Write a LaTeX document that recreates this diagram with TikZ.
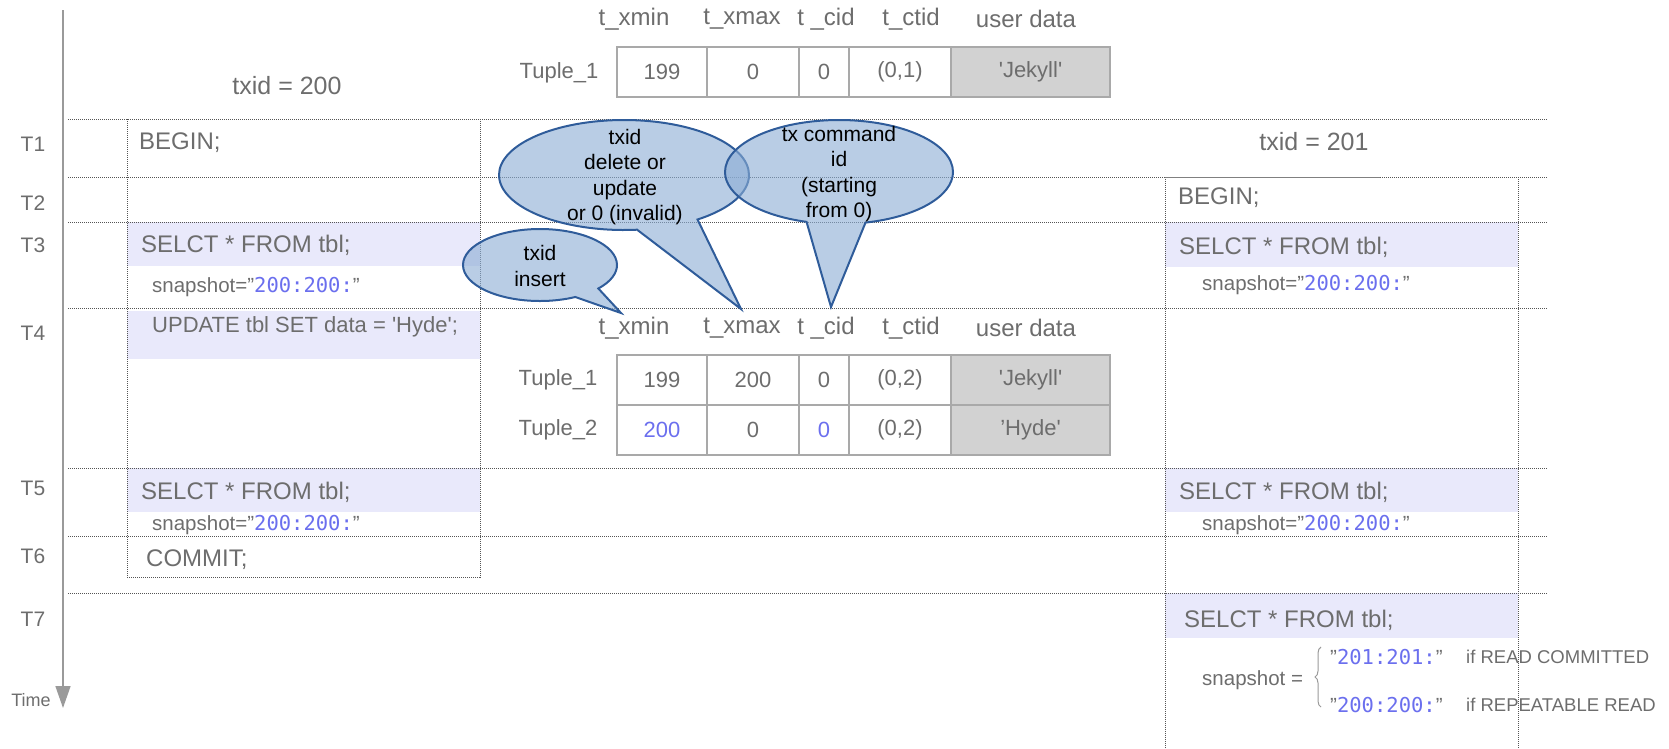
\documentclass[tikz,border=0pt]{standalone}
\usepackage{fontspec}
\setmainfont{Liberation Sans}
\newfontfamily\snapmono{DejaVu Sans Mono}
\usetikzlibrary{shapes.callouts,arrows.meta,decorations.pathreplacing}

\definecolor{txtgray}{HTML}{6D6D6D}
\definecolor{snapblue}{HTML}{6B6FEE}
\definecolor{bandcol}{HTML}{E9E9FB}
\definecolor{cellgray}{HTML}{D2D2D2}
\definecolor{cellline}{HTML}{A9A9A9}
\definecolor{bubfill}{RGB}{138,172,212}
\definecolor{bubline}{HTML}{2F5C9A}
\definecolor{dotline}{HTML}{555555}
\definecolor{axisgray}{HTML}{9A9A9A}

\newcommand{\snapnum}[1]{{\snapmono\color{snapblue}#1}}

\tikzset{
  txt/.style={text=txtgray, inner sep=0, font=\fontsize{24}{28}\selectfont},
  stmt/.style={txt, anchor=west},
  upd/.style={txt, anchor=west, font=\fontsize{22}{26}\selectfont},
  snap/.style={txt, anchor=west, font=\fontsize{20.5}{24}\selectfont},
  isolbl/.style={txt, anchor=west, font=\fontsize{18.5}{22}\selectfont},
  tlabel/.style={txt, font=\fontsize{21}{25}\selectfont},
  tuplbl/.style={txt, font=\fontsize{22}{26}\selectfont},
  cell/.style={draw=cellline, line width=1.2, text=txtgray, minimum height=50, inner sep=0, outer sep=0, font=\fontsize{22}{26}\selectfont},
  datacell/.style={cell, fill=cellgray},
  sep/.style={densely dotted, dotline, line width=1},
  bubble/.style={ellipse callout, draw=bubline, line width=2, fill=bubfill, fill opacity=0.6, inner sep=0, outer sep=0, callout pointer arc=30},
  bubtext/.style={text=black, align=center, inner sep=0, font=\fontsize{21}{25.5}\selectfont},
}

\begin{document}
\begin{tikzpicture}[x=1pt,y=-1pt]
\useasboundingbox (0,0) rectangle (1669,748);

\fill[bandcol] (127,222) rectangle (480,266);
\fill[bandcol] (127,311) rectangle (480,359);
\fill[bandcol] (127,468) rectangle (480,512);
\fill[bandcol] (1165,222) rectangle (1518,267);
\fill[bandcol] (1165,468) rectangle (1518,512);
\fill[bandcol] (1165,593) rectangle (1518,638);

\draw[sep] (68,119) -- (1548,119);
\draw[sep] (68,177) -- (1548,177);
\draw[sep] (68,222) -- (1548,222);
\draw[sep] (68,308) -- (1548,308);
\draw[sep] (68,468) -- (1548,468);
\draw[sep] (68,536) -- (1548,536);
\draw[sep] (68,593) -- (1548,593);

\draw[sep] (127,119) rectangle (480,577);
\draw[sep] (1165,748) -- (1165,177) -- (1518,177) -- (1518,748);
\draw[gray, line width=1] (1165,177) -- (1380,177);

\coordinate (axtop) at (63,10);
\coordinate (axend) at (63,708);
\draw[axisgray, line width=1.5, -{Triangle[width=15pt,length=22pt]}] (axtop) -- (axend);
\node[txt, font=\fontsize{18}{22}\selectfont] (time) at (31,700) {Time};

\node[tlabel] (T1) at (33,144) {T1};
\node[tlabel] (T2) at (33,203) {T2};
\node[tlabel] (T3) at (33,245) {T3};
\node[tlabel] (T4) at (33,333) {T4};
\node[tlabel] (T5) at (33,488) {T5};
\node[tlabel] (T6) at (33,556) {T6};
\node[tlabel] (T7) at (33,619) {T7};

\node[txt, font=\fontsize{25}{29}\selectfont] (tx200) at (287,86) {txid = 200};
\node[txt, font=\fontsize{25}{29}\selectfont] (tx201) at (1314,142) {txid = 201};

\node[stmt] (beginA) at (139,143) {BEGIN;};
\node[stmt] (selA3) at (141,245) {SELCT * FROM tbl;};
\node[snap] (snapA3) at (152,287) {snapshot=”\snapnum{200:200:}”};
\node[upd] (updA) at (152,327) {UPDATE tbl SET data = \textquotesingle Hyde\textquotesingle;};
\node[stmt] (selA5) at (141,492) {SELCT * FROM tbl;};
\node[snap] (snapA5) at (152,525) {snapshot=”\snapnum{200:200:}”};
\node[stmt] (commitA) at (146,560) {COMMIT;};

\node[stmt] (beginB) at (1178,198) {BEGIN;};
\node[stmt] (selB3) at (1179,247) {SELCT * FROM tbl;};
\node[snap] (snapB3) at (1202,285) {snapshot=”\snapnum{200:200:}”};
\node[stmt] (selB5) at (1179,492) {SELCT * FROM tbl;};
\node[snap] (snapB5) at (1202,525) {snapshot=”\snapnum{200:200:}”};
\node[stmt] (selB7) at (1184,620) {SELCT * FROM tbl;};
\node[snap] (snapB7) at (1202,680) {snapshot =};
\draw[decorate, decoration={brace, amplitude=6pt}, axisgray, line width=1] (1321,707) -- (1321,647);
\node[snap] (rcval) at (1330,657) {”\snapnum{201:201:}”};
\node[isolbl] (rclbl) at (1466,657) {if READ COMMITTED};
\node[snap] (rrval) at (1330,705) {”\snapnum{200:200:}”};
\node[isolbl] (rrlbl) at (1466,705) {if REPEATABLE READ};

\node[txt] (hxmin1) at (634,19) {t\_xmin};
\node[txt] (hxmax1) at (742,19) {t\_xmax};
\node[txt] (hcid1) at (826,19) {t \_cid};
\node[txt] (hctid1) at (911,19) {t\_ctid};
\node[txt] (hdata1) at (1026,19) {user data};
\node[tuplbl] (tupA) at (559,73) {Tuple\_1};
\node[cell, minimum width=90] (a1) at (662,72) {199};
\node[cell, minimum width=92] (a2) at (753,72) {0};
\node[cell, minimum width=50] (a3) at (824,72) {0};
\node[cell, minimum width=102] (a4) at (900,72) {(0,1)};
\node[datacell, minimum width=159] (a5) at (1030.5,72) {\textquotesingle Jekyll\textquotesingle};

\node[txt] (hxmin2) at (634,328) {t\_xmin};
\node[txt] (hxmax2) at (742,328) {t\_xmax};
\node[txt] (hcid2) at (826,328) {t \_cid};
\node[txt] (hctid2) at (911,328) {t\_ctid};
\node[txt] (hdata2) at (1026,328) {user data};
\node[tuplbl] (tupB) at (558,380) {Tuple\_1};
\node[cell, minimum width=90] (b1) at (662,380) {199};
\node[cell, minimum width=92] (b2) at (753,380) {200};
\node[cell, minimum width=50] (b3) at (824,380) {0};
\node[cell, minimum width=102] (b4) at (900,380) {(0,2)};
\node[datacell, minimum width=159] (b5) at (1030.5,380) {\textquotesingle Jekyll\textquotesingle};
\node[tuplbl] (tupC) at (558,430) {Tuple\_2};
\node[cell, minimum width=90, text=snapblue] (c1) at (662,430) {200};
\node[cell, minimum width=92] (c2) at (753,430) {0};
\node[cell, minimum width=50, text=snapblue] (c3) at (824,430) {0};
\node[cell, minimum width=102] (c4) at (900,430) {(0,2)};
\node[datacell, minimum width=159] (c5) at (1030.5,430) {’Hyde\textquotesingle};

\coordinate (tipA) at (741,309);
\coordinate (tipB) at (831,307);
\coordinate (tipC) at (621,313);
\node[bubble, minimum width=250, minimum height=110, callout absolute pointer={(tipA)}] (bubA) at (624,175) {};
\node[bubble, minimum width=228, minimum height=104, callout absolute pointer={(tipB)}] (bubB) at (839,172) {};
\node[bubble, minimum width=154, minimum height=72, callout absolute pointer={(tipC)}, callout pointer arc=22] (bubC) at (540,265) {};
\node[bubtext] (txtA) at (625,177) {txid\\delete or\\update\\or 0 (invalid)};
\node[bubtext] (txtB) at (839,174) {tx command\\id\\(starting\\from 0)};
\node[bubtext] (txtC) at (540,266) {txid\\insert};
\end{tikzpicture}
\end{document}
